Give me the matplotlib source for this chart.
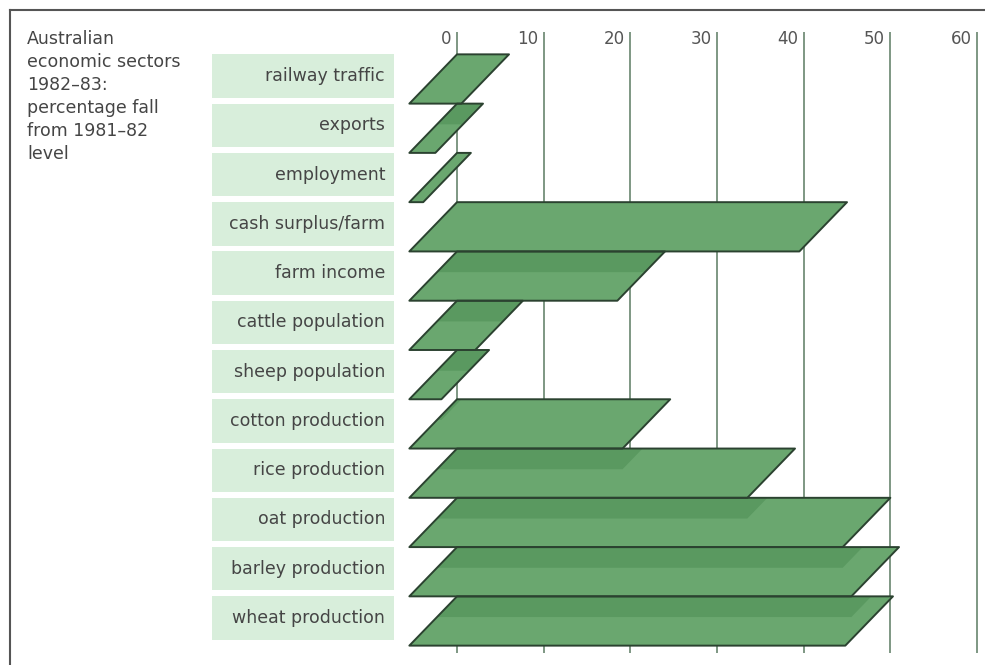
import matplotlib.pyplot as plt
from matplotlib.patches import Polygon, Rectangle

# DATA
sectors = ["railway traffic", "exports", "employment", "cash surplus/farm",
           "farm income", "cattle population", "sheep population",
           "cotton production", "rice production", "oat production",
           "barley production", "wheat production"]
fall_pct = [6, 3, 1.6, 45, 24, 7.6, 3.7, 24.6, 39, 50, 51, 50.3]
ticks = [0, 10, 20, 30, 40, 50, 60]
title = "Australian\neconomic sectors\n1982–83:\npercentage fall\nfrom 1981–82\nlevel"

# STYLE
bar_fill = '#6aa76f'
shadow_fill = '#5a9960'
edge_col = '#2b4230'
box_fill = '#d8eedb'
grid_col = '#748f79'
text_col = '#454545'
frame_col = '#555555'

skew = 5.5    # lean of each bar (in % units)
drop = 0.42   # shadow of bar above, moved down (in rows)

fig = plt.figure(figsize=(9.85, 6.65), dpi=100)
ax = fig.add_axes([0, 0, 1, 1])
ax.set_xlim(-52.73, 60.92)
ax.set_ylim(11.893, -1.603)
ax.axis('off')

# grid lines + labels at the top
ax.vlines(ticks, -0.954, 11.65, color=grid_col, lw=1.3, zorder=1)
for t in ticks:
    ax.annotate(str(t), (t, -0.81), xytext=(-4, 0), textcoords='offset points',
                ha='right', va='center', fontsize=12, color='#555555')

# bars (parallelograms) with shadow of the bar above
for i, v in enumerate(fall_pct):
    top, bot = i - 0.5, i + 0.5
    pts = [(0, top), (v, top), (v - skew, bot), (-skew, bot)]
    bar = Polygon(pts, closed=True, fc=bar_fill, ec='none', zorder=3)
    ax.add_patch(bar)
    if i > 0:
        pv = fall_pct[i - 1]
        sh = [(0, top - 1 + drop), (pv, top - 1 + drop), (pv - skew, top + drop), (-skew, top + drop)]
        shadow = Polygon(sh, closed=True, fc=shadow_fill, ec='none', zorder=3.5)
        ax.add_patch(shadow)
        shadow.set_clip_path(bar)
    ax.add_patch(Polygon(pts, closed=True, fill=False, ec=edge_col, lw=1.4,
                         joinstyle='round', zorder=4))

# category boxes
for i, name in enumerate(sectors):
    ax.add_patch(Rectangle((-28.27, i - 0.5), 21.0, 0.88, fc=box_fill, ec='none', zorder=2))
    ax.text(-8.3, i - 0.06, name, ha='right', va='center', fontsize=12.5, color=text_col)

# title block
ax.text(27 / 985, 1 - 30 / 665, title, transform=ax.transAxes, ha='left', va='top',
        fontsize=12.5, color=text_col, linespacing=1.36)

# frame
ax.plot([9.5 / 985, 1], [1 - 10 / 665] * 2, transform=ax.transAxes, color=frame_col, lw=1.5, clip_on=False)
ax.plot([9.5 / 985] * 2, [0, 1 - 10 / 665], transform=ax.transAxes, color=frame_col, lw=1.5, clip_on=False)

plt.savefig('out.png', dpi=100)
